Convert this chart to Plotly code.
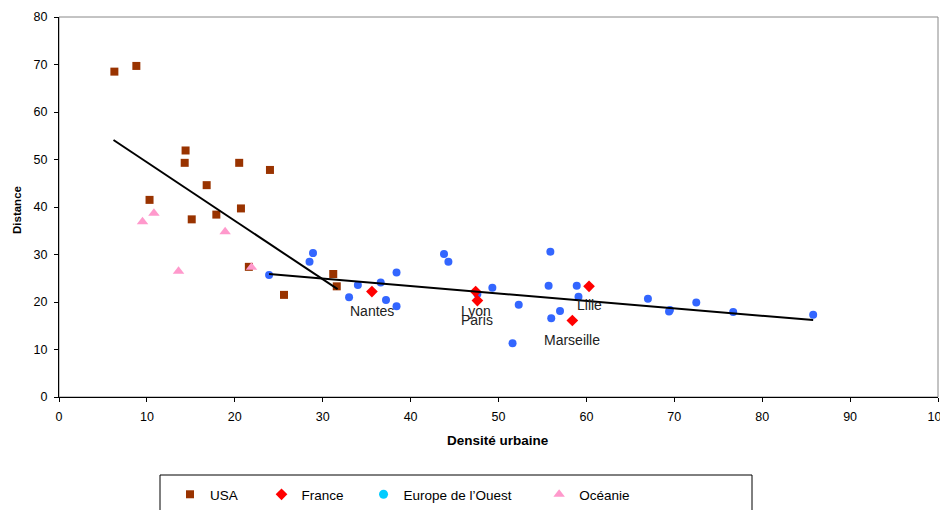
import plotly.graph_objects as go

# Data (density vs. distance)
usa_x = [6.3, 8.8, 14.4, 14.3, 20.5, 24.0, 16.8, 10.3, 20.7, 17.9, 15.1, 21.6, 31.2, 31.6, 25.6]
usa_y = [68.5, 69.7, 51.9, 49.3, 49.3, 47.8, 44.6, 41.5, 39.7, 38.4, 37.4, 27.4, 25.9, 23.3, 21.5]

france_x = [35.6, 47.4, 47.6, 58.4, 60.3]
france_y = [22.2, 22.2, 20.3, 16.1, 23.3]
france_labels = ["Nantes", "Lyon", "Paris", "Marseille", "Lille"]

europe_x = [28.9, 28.5, 23.9, 34.0, 33.0, 36.6, 38.4, 37.2, 38.4, 43.8, 44.3, 47.6, 49.3,
            52.3, 51.6, 55.9, 55.7, 57.0, 56.0, 58.9, 59.1, 67.0, 69.4, 69.5, 72.5, 76.7, 85.8]
europe_y = [30.3, 28.5, 25.7, 23.6, 21.0, 24.1, 26.2, 20.4, 19.1, 30.1, 28.5, 21.7, 23.0,
            19.4, 11.3, 30.6, 23.4, 18.1, 16.6, 23.4, 21.1, 20.7, 18.0, 18.3, 19.9, 17.9, 17.3]

oceanie_x = [9.5, 10.8, 18.9, 13.6, 21.9]
oceanie_y = [36.9, 38.7, 34.8, 26.5, 27.3]

# trend lines (end points)
trend_usa_x = [6.2, 31.7]
trend_usa_y = [54.1, 22.7]
trend_eur_x = [23.9, 85.8]
trend_eur_y = [25.9, 16.2]

FONT = 'Arial, Liberation Sans'
NB = '\u00a0'

# the page body adds 8px, so the margins are set 8px smaller
# plot area on screen: left 59, right 938, top 17, bottom 397
OFF = 8
PL, PR, PT, PB = 59, 938, 17, 397
L, T = PL - OFF, PT - OFF
R, B = 948 - (PR - OFF), 510 - (PB - OFF)
W, H = PR - PL, PB - PT


def px_x(p):
    return (p - PL) / W


def px_y(p):
    return (PB - p) / H


fig = go.Figure()

fig.add_trace(go.Scatter(x=usa_x, y=usa_y, mode='markers', name='USA' + NB * 5, legendrank=1,
                         marker=dict(symbol='square', size=8, color='#993300')))
fig.add_trace(go.Scatter(x=europe_x, y=europe_y, mode='markers', showlegend=False,
                         marker=dict(symbol='circle', size=8, color='#3366FF')))
fig.add_trace(go.Scatter(x=oceanie_x, y=oceanie_y, mode='markers', name='Océanie', legendrank=4,
                         marker=dict(symbol='triangle-up', size=10, color='#FF99CC')))
fig.add_trace(go.Scatter(x=france_x, y=france_y, mode='markers', name='France' + NB * 4, legendrank=2,
                         marker=dict(symbol='diamond', size=9, color='#FF0000')))
# legend entry only (cyan in the legend)
fig.add_trace(go.Scatter(x=[None], y=[None], mode='markers', name="Europe de l\u2019Ouest" + NB * 6,
                         legendrank=3, marker=dict(symbol='circle', size=9, color='#00CCFF')))

fig.add_trace(go.Scatter(x=trend_usa_x, y=trend_usa_y, mode='lines', showlegend=False,
                         line=dict(color='black', width=2)))
fig.add_trace(go.Scatter(x=trend_eur_x, y=trend_eur_y, mode='lines', showlegend=False,
                         line=dict(color='black', width=2)))

# city labels under the French points
for x, y, lab in zip(france_x, france_y, france_labels):
    fig.add_annotation(x=x, y=y, text=lab, showarrow=False, yshift=-19,
                       font=dict(family=FONT, size=14, color='#222222'))

# axis titles
fig.add_annotation(xref='paper', yref='paper', x=px_x(498), y=px_y(441), xanchor='center', yanchor='middle',
                   text='<b>Densité urbaine</b>', showarrow=False,
                   font=dict(family=FONT, size=13.5, color='black'))
fig.add_annotation(xref='paper', yref='paper', x=px_x(17), y=px_y(210), xanchor='center', yanchor='middle',
                   text='<b>Distance</b>', textangle=-90, showarrow=False,
                   font=dict(family=FONT, size=11.5, color='black'))

# grey plot-area frame + legend box
fig.add_shape(type='rect', xref='paper', yref='paper', x0=0, x1=1, y0=0, y1=1,
              line=dict(color='#888888', width=1), layer='below')
fig.add_shape(type='rect', xref='paper', yref='paper', x0=px_x(160), x1=px_x(752),
              y0=px_y(530), y1=px_y(475), line=dict(color='black', width=1))

fig.update_layout(
    width=948, height=510,
    margin=dict(l=L, r=R, t=T, b=B, autoexpand=False),
    plot_bgcolor='white', paper_bgcolor='white',
    font=dict(family=FONT, size=12.5, color='black'),
    legend=dict(orientation='h', x=px_x(170), xanchor='left', y=px_y(479), yanchor='top',
                font=dict(size=13.5), bgcolor='rgba(0,0,0,0)', borderwidth=0),
)
fig.update_xaxes(range=[0, 100], dtick=10, showgrid=False, zeroline=False,
                 showline=True, linecolor='black', linewidth=1,
                 ticks='outside', ticklen=4, tickcolor='black', ticklabelstandoff=4)
fig.update_yaxes(range=[0, 80], dtick=10, showgrid=False, zeroline=False,
                 showline=True, linecolor='black', linewidth=1,
                 ticks='outside', ticklen=4, tickcolor='black', ticklabelstandoff=4)

fig.write_html("out.html")
